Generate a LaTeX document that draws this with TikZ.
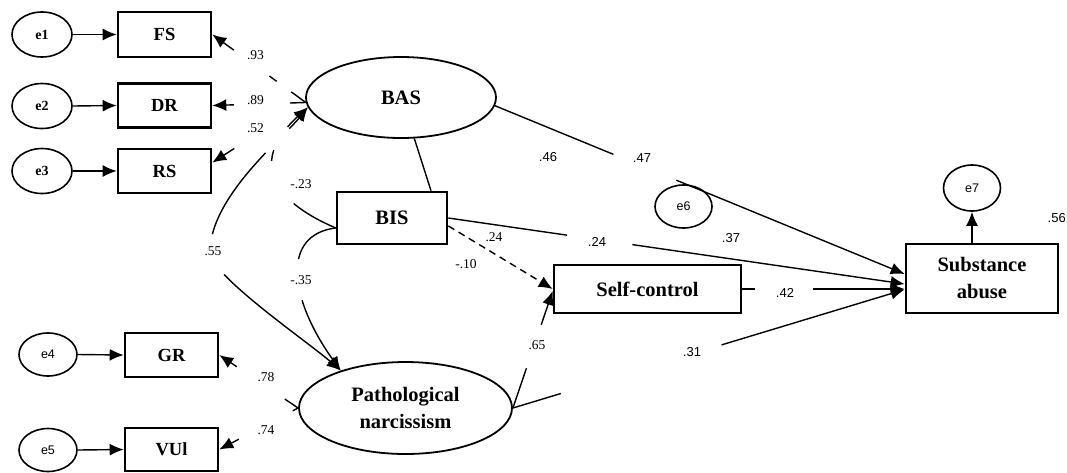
\documentclass[tikz,border=0pt]{standalone}
\usepackage{fontspec}
\setmainfont{Liberation Serif}
\newfontfamily\sansf{Liberation Sans}
\usetikzlibrary{shapes.geometric,arrows.meta,calc}
\begin{document}
\begin{tikzpicture}[x=1pt,y=-1pt,
  conn/.style={line width=1.4pt},
  tipb/.tip={Latex[length=14pt,width=12pt]},
  arr/.style={-tipb},
  indbox/.style={draw,line width=2.6pt,inner sep=0pt,minimum width=93pt,minimum height=44pt,font=\bfseries\fontsize{18.5}{20}\selectfont},
  mainbox/.style={draw,line width=2.6pt,inner sep=0pt,align=center,font=\bfseries\fontsize{20.5}{27}\selectfont},
  latent/.style={draw,ellipse,line width=1.8pt,inner sep=0pt,align=center,font=\bfseries\fontsize{20.5}{27}\selectfont},
  errs/.style={draw,ellipse,line width=1.6pt,inner sep=0pt,minimum width=60pt,minimum height=45pt,font=\bfseries\fontsize{14}{16}\selectfont},
  errsans/.style={draw,ellipse,line width=1.6pt,inner sep=0pt,minimum width=58pt,minimum height=43pt,font=\sansf\fontsize{12.5}{14}\selectfont},
  coef/.style={font=\fontsize{13.5}{15}\selectfont,inner sep=0pt},
  coefs/.style={font=\sansf\fontsize{13}{15}\selectfont,inner sep=0pt},
]
\useasboundingbox[fill=white] (0,0) rectangle (1067,472);

% error terms and indicators
\node[errs] (e1) at (42,34.5) {e1};
\node[errs] (e2) at (42,106) {e2};
\node[errs] (e3) at (42,171) {e3};
\node[errsans] (e4) at (48,354.5) {e4};
\node[errsans] (e5) at (48,450) {e5};
\node[indbox,minimum height=45pt] (FS) at (164.5,34.5) {FS};
\node[indbox] (DR) at (164.5,105.5) {DR};
\node[indbox] (RS) at (164.5,171) {RS};
\node[indbox] (GR) at (171.5,355) {GR};
\node[indbox,minimum height=43pt] (VUl) at (171.5,449.5) {VUl};

% main variables
\node[latent,minimum width=190pt,minimum height=81pt] (BAS) at (401,97.5) {BAS};
\node[latent,minimum width=213pt,minimum height=92pt] (PN) at (405.5,408) {Pathological\\narcissism};
\node[mainbox,minimum width=110pt,minimum height=52pt] (BIS) at (392,218) {BIS};
\node[mainbox,minimum width=187pt,minimum height=48pt] (SC) at (647.5,289) {Self-control};
\node[mainbox,minimum width=152pt,minimum height=69pt] (SA) at (982,278.5) {Substance\\abuse};
\node[errsans,minimum width=57pt,minimum height=43pt] (e6) at (683.5,206.5) {e6};
\node[errsans,minimum width=57pt,minimum height=46pt] (e7) at (972,188) {e7};

% error arrows
\draw[conn,arr] (e1.east) -- (FS.west);
\draw[conn,arr] (e2.east) -- (DR.west);
\draw[conn,arr] (e3.east) -- (RS.west);
\draw[conn,arr] (e4.east) -- (GR.west);
\draw[conn,arr] (e5.east) -- (VUl.west);

% loadings
\draw[conn,arr,dash pattern=on 18pt off 18pt on 9pt off 44pt on 80pt] (BAS.183) -- (FS.east);
\draw[conn,arr,dash pattern=on 16pt off 56pt on 60pt] (BAS.183) -- (DR.east);
\draw[conn,arr,dash pattern=on 40pt off 85pt,dash phase=40pt] (BAS.183) -- (RS.10);
\draw[conn,arr,dash pattern=on 16pt off 58pt on 60pt] (PN.west) -- (GR.east);
\draw[conn,arr,dash pattern=on 6pt off 61pt on 60pt] (PN.west) -- (VUl.east);

% covariances
\draw[conn,tipb-tipb,
      dash pattern=on 15pt off 34pt on 98pt off 45pt on 300pt]
  (BAS.186) .. controls (283,138) and (210,197) .. (210,252)
            .. controls (210,275) and (307.7,341.7) .. (PN.150);
\draw[conn,tipb-,
      dash pattern=on 15pt off 27pt on 11pt off 50pt on 200pt]
  (BAS.186) .. controls (250,160) and (270,200) .. (BIS.190);
\draw[conn,arr,dash pattern=on 52pt off 42pt on 200pt]
  (BIS.190) .. controls (280,235) and (290,300) .. (PN.150);

% structural paths
\draw[conn] (BAS.-72) -- (BIS.35);
\draw[conn,arr,dash pattern=on 128pt off 68pt on 400pt] (BAS.-5) -- ([yshift=4.5pt]SA.west);
\draw[conn,arr,dash pattern=on 120pt off 66pt on 400pt] (BIS.east) -- ([yshift=-5.5pt]SA.west);
\draw[conn,arr,dash pattern=on 7pt off 5pt] (BIS.-8) -- (SC.west);
\draw[conn,arr,dash pattern=on 42pt off 46pt on 100pt] (PN.east) -- ([yshift=-2pt]SC.west);
\draw[conn,arr,dash pattern=on 50pt off 168pt on 300pt] (PN.east) -- ([yshift=-11pt]SA.west);
\draw[conn,arr,dash pattern=on 13pt off 58pt on 200pt] (SC.east) -- (SC.east -| SA.west);
\draw[conn,arr] (SA.north -| e7.south) -- (e7.south);

% coefficients
\node[coef] (c93) at (255.5,55) {.93};
\node[coef] (c89) at (255.5,100) {.89};
\node[coef] (c52) at (255.5,128) {.52};
\node[coef] (c23) at (301,184) {-.23};
\node[coef] (c55) at (213,251) {.55};
\node[coef] (c35) at (301,280) {-.35};
\node[coef] (c78) at (266,377) {.78};
\node[coef] (c74) at (266,430) {.74};
\node[coef] (c24a) at (494,237) {.24};
\node[coef] (c10) at (466,264) {-.10};
\node[coef] (c65) at (537,345) {.65};
\node[coefs] (c46) at (548,157) {.46};
\node[coefs] (c47) at (642,158) {.47};
\node[coefs] (c24b) at (597,242) {.24};
\node[coefs] (c37) at (731,238) {.37};
\node[coefs] (c42) at (785,293) {.42};
\node[coefs] (c31) at (692,352) {.31};
\node[coefs,anchor=east] (c56) at (1066,218) {.56};
\end{tikzpicture}
\end{document}
